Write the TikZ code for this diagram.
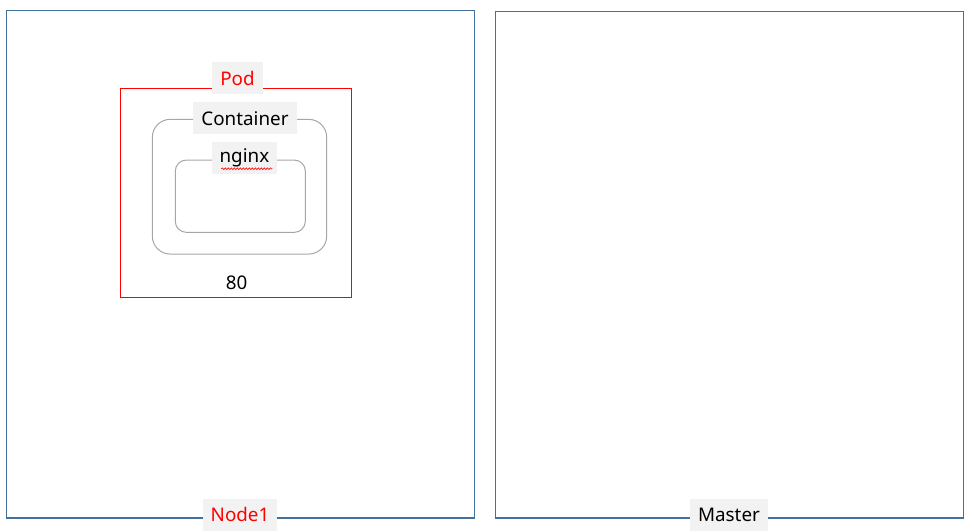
\documentclass[tikz,border=0pt]{standalone}
\usepackage{fontspec}
\setmainfont{Noto Sans}
\usetikzlibrary{calc,positioning,decorations.pathmorphing}
\definecolor{hostblue}{RGB}{65,113,156}
\definecolor{taggray}{RGB}{242,242,242}
\definecolor{ctrgray}{RGB}{166,166,166}

\begin{document}
\begin{tikzpicture}[x=1pt,y=-1pt,
  hostbox/.style={draw=hostblue,line width=1.2pt,inner sep=0pt,minimum width=468pt},
  ctrbox/.style={draw=ctrgray,line width=1pt,inner sep=0pt},
  tag/.style={fill=taggray,inner xsep=8pt,inner ysep=0pt,minimum height=32pt,font=\fontsize{18.8}{21}\selectfont},
  txt/.style={inner sep=0pt,font=\fontsize{18.8}{21}\selectfont}]
\useasboundingbox (0,0) rectangle (974,532);
% hosts
\node[hostbox,minimum height=507.5pt] (node1) at (240.5,264.25) {};
\node[hostbox,minimum height=506.5pt] (master) at (729.5,264.75) {};
% pod and containers
\node[draw=red,line width=1pt,inner sep=0pt,minimum width=231pt,minimum height=209pt] (pod) at (235.8,192.8) {};
\node[ctrbox,rounded corners=18pt,minimum width=174.4pt,minimum height=134.7pt] (container) at (239.5,186.7) {};
\node[ctrbox,rounded corners=11pt,minimum width=130pt,minimum height=72.3pt] (nginx) at (240.3,196.2) {};
% labels
\node[tag,text=red] (podtag) at ([xshift=1.7pt,yshift=9.6pt]pod.north) {Pod};
\node[tag] (containertag) at ([xshift=5.5pt,yshift=0.6pt]container.north) {Container};
\node[tag] (nginxtag) at ([xshift=4.1pt,yshift=1.3pt]nginx.north) {nginx};
\draw[red,line width=0.6pt,decorate,decoration={snake,amplitude=0.9pt,segment length=3pt}]
  ($(nginxtag.center)+(-23,10.5)$) coordinate (wavyA) -- ($(nginxtag.center)+(28,10.5)$) coordinate (wavyB);
\node[txt] (port) at (236.7,282.5) {80};
\node[tag,text=red] (node1tag) at ([xshift=-0.5pt,yshift=4pt]node1.south) {Node1};
\node[tag] (mastertag) at ([xshift=-0.5pt,yshift=4pt]master.south) {Master};
\end{tikzpicture}
\end{document}
